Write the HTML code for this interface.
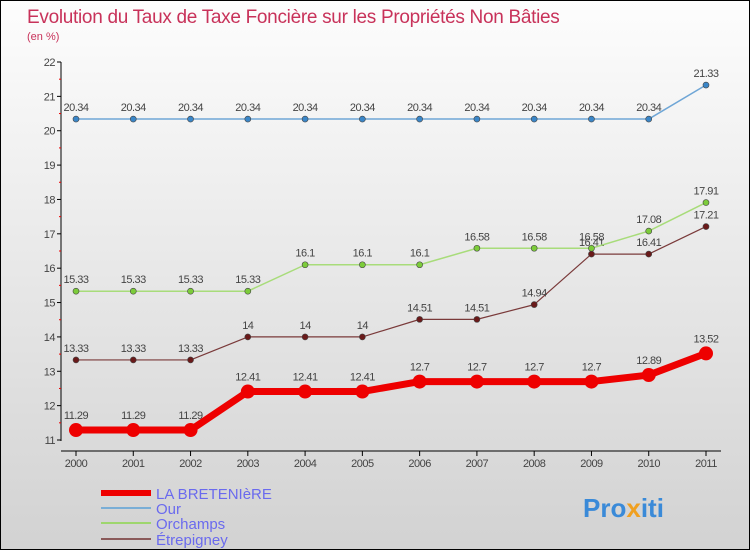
<!DOCTYPE html>
<html><head><meta charset="utf-8"><style>
body{margin:0}
#c{width:748px;height:548px;border:1px solid #000;background:linear-gradient(#fdfdfd,#d2d2d2);position:relative;font-family:"Liberation Sans",sans-serif;overflow:hidden}
</style></head><body>
<div id="c">
<svg id="s" width="748" height="548" style="position:absolute;left:0;top:0">
<text x="26" y="22" font-size="19" fill="#c8325a" letter-spacing="-0.3">Evolution du Taux de Taxe Foncière sur les Propriétés Non Bâties</text>
<text x="26" y="39" font-size="11" fill="#c8325a">(en %)</text>
<g id="axes"></g><g id="series"></g>
<g>
<line x1="100" y1="492" x2="150" y2="492" stroke="#e00" stroke-width="6"/>
<text x="155" y="498" font-size="15" fill="#6a6aee">LA BRETENIèRE</text>
<line x1="100" y1="507" x2="150" y2="507" stroke="#7aaed6" stroke-width="2"/>
<text x="155" y="513" font-size="15" fill="#6a6aee">Our</text>
<line x1="100" y1="522" x2="150" y2="522" stroke="#9ed66e" stroke-width="2"/>
<text x="155" y="528" font-size="15" fill="#6a6aee">Orchamps</text>
<line x1="100" y1="538" x2="150" y2="538" stroke="#8a5a5a" stroke-width="2"/>
<text x="155" y="544" font-size="15" fill="#6a6aee">Étrepigney</text>
</g>
<text x="582" y="516" font-size="26" font-weight="bold" fill="#3a8ad8">Pro<tspan fill="#f0a020">x</tspan>iti</text>
</svg>
</div>
<script>
const years=[2000,2001,2002,2003,2004,2005,2006,2007,2008,2009,2010,2011];
const yTicks=[11,12,13,14,15,16,17,18,19,20,21,22];
const bret=[11.29,11.29,11.29,12.41,12.41,12.41,12.7,12.7,12.7,12.7,12.89,13.52];
const our=[20.34,20.34,20.34,20.34,20.34,20.34,20.34,20.34,20.34,20.34,20.34,21.33];
const orch=[15.33,15.33,15.33,15.33,16.1,16.1,16.1,16.58,16.58,16.58,17.08,17.91];
const etre=[13.33,13.33,13.33,14,14,14,14.51,14.51,14.94,16.41,16.41,17.21];
const NS="http://www.w3.org/2000/svg";
const X=i=>75+i*(630/11);
const Y=v=>439-(v-11)*(378/11);
function mk(t,a,p){const e=document.createElementNS(NS,t);for(const k in a)e.setAttribute(k,a[k]);p.appendChild(e);return e;}
const ax=document.getElementById('axes');
const yl=mk('line',{x1:60,y1:61,x2:60,y2:440,stroke:'#000'},ax);


const xl=mk('line',{x1:60,y1:450,x2:720,y2:450,stroke:'#000'},ax);


yTicks.forEach(v=>{
 mk('line',{x1:56,y1:Y(v),x2:60,y2:Y(v),stroke:'#000'},ax);
 if(v<22)mk('line',{x1:58,y1:Y(v+0.5),x2:60,y2:Y(v+0.5),stroke:'#e00'},ax);
 const t=mk('text',{x:54,y:Y(v)+4,'font-size':11,fill:'#444','text-anchor':'end','letter-spacing':'-0.5'},ax);t.textContent=v;
 
 
});
years.forEach((y,i)=>{
 mk('line',{x1:X(i),y1:450,x2:X(i),y2:455,stroke:'#000'},ax);
 const t=mk('text',{x:X(i),y:466,'font-size':11,fill:'#444','text-anchor':'middle','letter-spacing':'-0.5'},ax);t.textContent=y;
 
 
});
const sg=document.getElementById('series');
function series(d,col,dot,w,r,name){
 const g=mk('g',{},sg);
 
 
 mk('polyline',{points:d.map((v,i)=>X(i)+','+Y(v)).join(' '),fill:'none',stroke:col,'stroke-width':w,'stroke-linejoin':'round'},g);
 d.forEach((v,i)=>{
  const c=mk('circle',{cx:X(i),cy:Y(v),r:r,fill:dot,stroke:'#444','stroke-width':r>4?0:0.6},g);
  
  
  const t=mk('text',{x:X(i),y:Y(v)-(r>4?11:8),'font-size':11,fill:'#444','text-anchor':'middle','letter-spacing':'-0.5'},g);t.textContent=v;
 });
}
series(etre,'#7a3a3a','#6a1a1a',1.2,3,'etrepigney-series');
series(orch,'#a8dc7a','#7ccc3a',1.5,3,'orchamps-series');
series(our,'#6fa6d6','#3a86c8',1.5,3,'our-series');
series(bret,'#e00','#e00',7,7,'la-breteniere-series');
</script>
</body></html>
